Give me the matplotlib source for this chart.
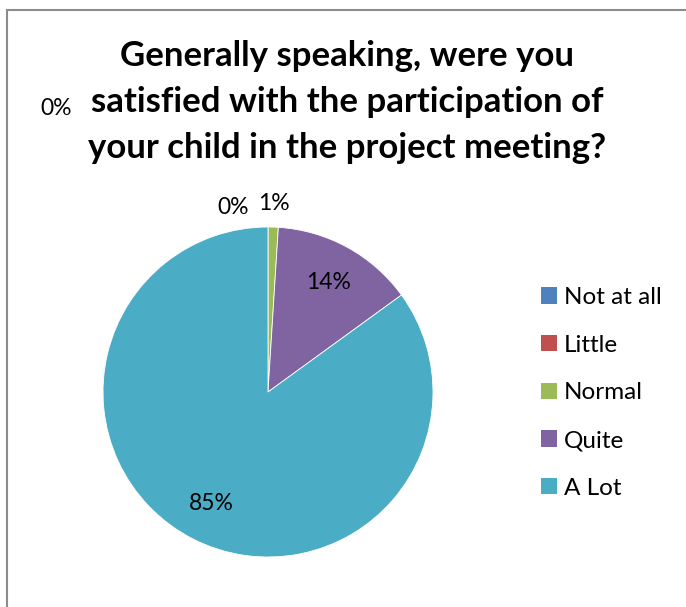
import matplotlib
matplotlib.use("Agg")
import matplotlib.pyplot as plt
from matplotlib.patches import Rectangle, Patch
import numpy as np

categories = ["Not at all", "Little", "Normal", "Quite", "A Lot"]
values = [0, 0, 1, 14, 85]
colors = ["#4F81BD", "#C0504D", "#9BBB59", "#8064A2", "#4BACC6"]
title = "Generally speaking, were you\nsatisfied with the participation of\nyour child in the project meeting?"

W, H = 686, 607
fig = plt.figure(figsize=(W / 100, H / 100), dpi=100)
fig.patch.set_facecolor("white")

# outer chart border (left and top visible)
fig.add_artist(Rectangle((6.5 / W, -0.1), 1.2, (H - 9.5) / H + 0.1, transform=fig.transFigure,
                         fill=False, edgecolor="#8c8c8c", linewidth=1.5))

FONT = ["Lato", "DejaVu Sans"]

fig.text(347 / W, 1 - 40 / H, title, ha="center", va="top", fontsize=25,
         fontweight="bold", family=FONT, linespacing=1.53)

cx, cy, r = 268, 392, 165
ax = fig.add_axes([(cx - r) / W, (H - cy - r) / H, 2 * r / W, 2 * r / H])
wedges, _ = ax.pie(values, colors=colors, startangle=90, counterclock=False,
                   radius=1, wedgeprops=dict(edgecolor="white", linewidth=0.6))
ax.set_xlim(-1, 1)
ax.set_ylim(-1, 1)
ax.set_aspect("equal")
ax.axis("off")

lab_fs = 16.5
total = sum(values)
for i, w in enumerate(wedges):
    ang = np.deg2rad((w.theta1 + w.theta2) / 2)
    pct = f"{round(100 * values[i] / total)}%"
    if values[i] >= 5:
        d = 0.76
    elif values[i] > 0:
        d = 1.14
    else:
        continue
    ax.text(d * np.cos(ang), d * np.sin(ang), pct, ha="center", va="center",
            fontsize=lab_fs, family=FONT, clip_on=False)

# zero-valued slice labels (pushed out by the layout)
fig.text(56 / W, 1 - 108 / H, "0%", ha="center", va="center", fontsize=lab_fs, family=FONT)
fig.text(233 / W, 1 - 208 / H, "0%", ha="center", va="center", fontsize=lab_fs, family=FONT)

handles = [Patch(facecolor=c, edgecolor="none") for c in colors]
fs_leg = 17.5
leg = fig.legend(handles, categories, loc="upper left", bbox_to_anchor=(519 / W, 1 - 265 / H),
                 frameon=False, handlelength=0.66, handleheight=0.66,
                 handletextpad=0.28, labelspacing=1.1, prop={"family": FONT, "size": fs_leg})

fig.savefig("out.png", dpi=100, facecolor="white")
